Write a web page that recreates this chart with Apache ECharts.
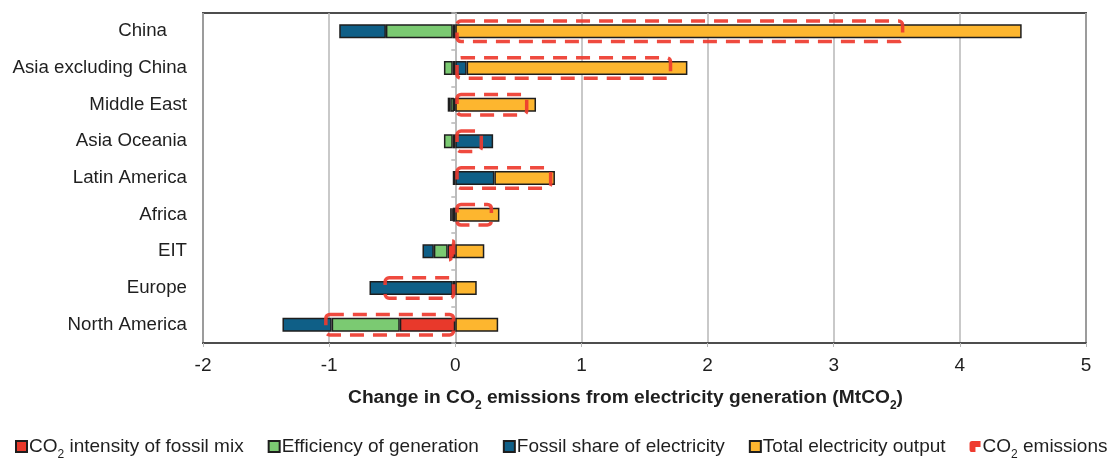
<!DOCTYPE html>
<html>
<head>
<meta charset="utf-8">
<script src="https://cdn.jsdelivr.net/npm/echarts@6/dist/echarts.min.js"></script>
<style>
  html, body { margin: 0; padding: 0; background: #ffffff; }
  #chart { width: 1114px; height: 459px; }
</style>
</head>
<body>
<div id="chart"></div>
<script>
// Regions, top to bottom
const regions = ['China', 'Asia excluding China', 'Middle East', 'Asia Oceania', 'Latin America', 'Africa', 'EIT', 'Europe', 'North America'];

// Decomposition of the change in CO2 emissions (MtCO2)
const intensityOfFossilMix   = [-0.02, -0.02, -0.01, -0.02, -0.02, -0.02, -0.06, -0.02, -0.44];
const efficiencyOfGeneration = [-0.53, -0.07, -0.03, -0.07, null, -0.01, -0.11, null, -0.54];
const fossilShare            = [-0.37, 0.09, -0.02, 0.30, 0.31, -0.01, -0.09, -0.66, -0.39];
const totalOutput            = [4.49, 1.75, 0.64, null, 0.48, 0.35, 0.23, 0.17, 0.34];
const co2Emissions           = [3.56, 1.72, 0.58, 0.22, 0.77, 0.30, -0.05, -0.57, -1.04];

// Series names as shown in the legend
const seriesNames = ['CO2 intensity of fossil mix', 'Efficiency of generation', 'Fossil share of electricity', 'Total electricity output', 'CO2 emissions'];
const seriesColors = ['#e8392b', '#7bca72', '#0f5f87', '#fdb62f'];

const FONT = '"Liberation Sans", Arial, sans-serif';
const TEXT = '#1f1f1f';
const GRID_GREY = '#b7b7b7';

const sub = (s) => s.replace(/CO2/g, 'CO{sub|2}');

const chart = echarts.init(document.getElementById('chart'), null, { renderer: 'canvas' });

const barBorder = { borderColor: '#1e1e1e', borderWidth: 1.5 };

function stackedSeries(i, data) {
  return {
    name: seriesNames[i],
    type: 'bar',
    stack: 'decomp',
    yAxisIndex: 0,
    barWidth: 14,
    data: data,
    itemStyle: Object.assign({ color: seriesColors[i] }, barBorder),
    emphasis: { disabled: true },
    z: 2
  };
}

const option = {
  backgroundColor: '#ffffff',
  animation: false,
  textStyle: { fontFamily: FONT, color: TEXT },
  grid: {
    left: 203, right: 28, top: 13, bottom: 116,
    show: true, borderColor: '#4d4d4d', borderWidth: 2, backgroundColor: 'transparent'
  },
  legend: {
    left: 15, top: 437, width: 1120,
    padding: 0,
    itemWidth: 11, itemHeight: 11, itemGap: 24,
    icon: 'rect',
    textStyle: {
      fontFamily: FONT, fontSize: 19, color: TEXT, padding: [0, 0, 0, -3],
      rich: { sub: { fontFamily: FONT, fontSize: 12, color: TEXT, verticalAlign: 'bottom', padding: [0, 0, -5, 0] } }
    },
    formatter: (name) => sub(name),
    data: [
      seriesNames[0], seriesNames[1], seriesNames[2], seriesNames[3],
      {
        name: seriesNames[4],
        icon: 'path://M3,0 L13,0 L13,7 L7,7 L7,13 L3,13 Q0,13 0,10 L0,3 Q0,0 3,0 Z',
        itemStyle: { color: '#ee3b2f', borderWidth: 0 }
      }
    ]
  },
  xAxis: {
    type: 'value',
    min: -2, max: 5, interval: 1,
    axisLine: { show: true, onZero: false, lineStyle: { color: '#4d4d4d', width: 2 } },
    axisTick: { show: true, length: 4, lineStyle: { color: GRID_GREY } },
    axisLabel: { fontFamily: FONT, fontSize: 19, color: TEXT, margin: 13 },
    splitLine: { show: true, lineStyle: { color: GRID_GREY, width: 1.5 } },
    name: 'Change in CO{sub|2} emissions from electricity generation (MtCO{sub|2})',
    nameLocation: 'middle',
    nameGap: 45,
    nameTextStyle: {
      fontFamily: FONT, fontSize: 19.2, fontWeight: 'bold', color: TEXT,
      padding: [0, 38, 0, 0],
      rich: { sub: { fontFamily: FONT, fontSize: 12, fontWeight: 'bold', color: TEXT, verticalAlign: 'bottom', padding: [0, 0, -5, 0] } }
    }
  },
  yAxis: [
    {
      type: 'category',
      data: regions,
      inverse: true,
      axisLine: { show: false, onZero: false },
      axisTick: { show: false },
      axisLabel: {
        fontFamily: FONT, fontSize: 18.7, color: TEXT, margin: 16,
        formatter: (v) => v === 'China' ? '{pad|' + v + '}' : v,
        rich: { pad: { fontFamily: FONT, fontSize: 18.7, color: TEXT, padding: [0, 20, 0, 0] } }
      },
      splitLine: { show: false }
    },
    {
      // axis sitting on the zero line, only for its small boundary ticks
      type: 'category',
      data: regions,
      inverse: true,
      position: 'left',
      axisLine: { show: true, onZero: true, lineStyle: { color: GRID_GREY, width: 1.5 } },
      axisTick: { show: true, length: 4, lineStyle: { color: GRID_GREY, width: 1.5 } },
      axisLabel: { show: false },
      splitLine: { show: false }
    }
  ],
  series: [
    stackedSeries(0, intensityOfFossilMix),
    stackedSeries(1, efficiencyOfGeneration),
    stackedSeries(2, fossilShare),
    stackedSeries(3, totalOutput),
    {
      name: seriesNames[4],
      type: 'bar',
      yAxisIndex: 1,
      barWidth: 24,
      data: co2Emissions,
      itemStyle: {
        color: 'rgba(0,0,0,0)',
        borderColor: 'rgba(238,59,47,0.92)',
        borderWidth: 3.5,
        borderType: [14, 9],
        borderRadius: 4
      },
      emphasis: { disabled: true },
      z: 5
    }
  ]
};

chart.setOption(option);
</script>
</body>
</html>
